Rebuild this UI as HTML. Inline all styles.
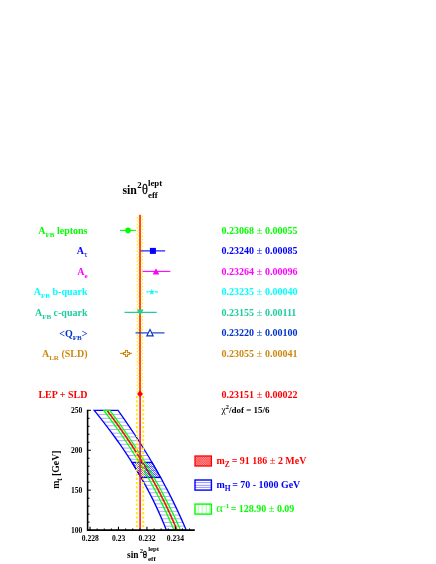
<!DOCTYPE html>
<html><head><meta charset="utf-8"><title>sin2theta</title>
<style>html,body{margin:0;padding:0;background:#fff;width:436px;height:564px;overflow:hidden;font-family:"Liberation Serif",serif;}</style>
</head><body>
<svg width="436" height="564" viewBox="0 0 436 564" style="position:absolute;left:0;top:0;will-change:transform">
<defs>
<clipPath id="pc"><rect x="87" y="409" width="110" height="121.1"/></clipPath>
</defs>
<text x="122.4" y="194" font-family="Liberation Serif" font-weight="bold" font-size="11.8" fill="#000">sin</text>
<text x="137.3" y="188" font-family="Liberation Serif" font-weight="bold" font-size="8.8" fill="#000">2</text>
<text transform="translate(142,194) scale(0.98,1.13)" font-family="Liberation Serif" font-size="12.5" fill="#000" stroke="#000" stroke-width="0.25">θ</text>
<text x="148" y="186.1" font-family="Liberation Serif" font-weight="bold" font-size="8.8" fill="#000">lept</text>
<text x="148" y="197.5" font-family="Liberation Serif" font-weight="bold" font-size="8.8" fill="#000">eff</text>
<path d="M137.3,217.05V394.6M140.7,217.05V394.6M139,215.45V394.6M142.4,215.45V394.6" stroke="#ffee22" stroke-width="1.4" stroke-dasharray="1.4,1.95" fill="none"/>
<rect x="139.2" y="214.8" width="1.65" height="181" fill="#ff2a10"/>
<text x="87.5" y="233.6" text-anchor="end" font-family="Liberation Serif" font-weight="bold" font-size="10" fill="#00ff00">A<tspan font-size="7" font-weight="bold" dy="3">FB</tspan><tspan dy="-3"> leptons</tspan></text>
<text x="221.5" y="233.6" font-family="Liberation Serif" font-weight="bold" font-size="10" fill="#00ff00">0.23068 <tspan font-weight="normal" font-size="10.8">±</tspan> 0.00055</text>
<line x1="120.0" y1="230.4" x2="135.9" y2="230.4" stroke="#00ff00" stroke-width="1.1"/>
<circle cx="128.0" cy="230.4" r="2.8" fill="#00ff00"/>
<text x="87.5" y="254.1" text-anchor="end" font-family="Liberation Serif" font-weight="bold" font-size="10" fill="#0000ff">A<tspan font-size="9" font-weight="normal" dy="3">τ</tspan></text>
<text x="221.5" y="254.1" font-family="Liberation Serif" font-weight="bold" font-size="10" fill="#0000ff">0.23240 <tspan font-weight="normal" font-size="10.8">±</tspan> 0.00085</text>
<line x1="140.6" y1="250.9" x2="165.2" y2="250.9" stroke="#0000ff" stroke-width="1.1"/>
<rect x="149.9" y="247.9" width="6" height="6" fill="#0000ff"/>
<text x="87.5" y="274.6" text-anchor="end" font-family="Liberation Serif" font-weight="bold" font-size="10" fill="#ff00ff">A<tspan font-size="7" font-weight="bold" dy="3">e</tspan></text>
<text x="221.5" y="274.6" font-family="Liberation Serif" font-weight="bold" font-size="10" fill="#ff00ff">0.23264 <tspan font-weight="normal" font-size="10.8">±</tspan> 0.00096</text>
<line x1="142.5" y1="271.4" x2="170.3" y2="271.4" stroke="#ff00ff" stroke-width="1.1"/>
<path d="M156.0,268.2L159.3,274.4H152.7Z" fill="#ff00ff"/>
<text x="87.5" y="295.1" text-anchor="end" font-family="Liberation Serif" font-weight="bold" font-size="10" fill="#00ffff">A<tspan font-size="7" font-weight="bold" dy="3">FB</tspan><tspan dy="-3"> b-quark</tspan></text>
<text x="221.5" y="295.1" font-family="Liberation Serif" font-weight="bold" font-size="10" fill="#00ffff">0.23235 <tspan font-weight="normal" font-size="10.8">±</tspan> 0.00040</text>
<path d="M146.4,291.9H148.8M154.8,291.9H158.0" stroke="#00ffff" stroke-width="1.1"/>
<polygon points="151.78,288.80 152.54,291.05 154.92,291.08 153.02,292.50 153.72,294.77 151.78,293.40 149.84,294.77 150.54,292.50 148.64,291.08 151.02,291.05" fill="#00ffff"/>
<text x="87.5" y="315.6" text-anchor="end" font-family="Liberation Serif" font-weight="bold" font-size="10" fill="#1fcc9f">A<tspan font-size="7" font-weight="bold" dy="3">FB</tspan><tspan dy="-3"> c-quark</tspan></text>
<text x="221.5" y="315.6" font-family="Liberation Serif" font-weight="bold" font-size="10" fill="#1fcc9f">0.23155 <tspan font-weight="normal" font-size="10.8">±</tspan> 0.00111</text>
<line x1="124.5" y1="312.4" x2="156.7" y2="312.4" stroke="#1fcc9f" stroke-width="1.1"/>
<path d="M140.2,315.4L143.5,309.6H136.9Z" fill="#1fcc9f"/>
<text x="87.5" y="336.8" text-anchor="end" font-family="Liberation Serif" font-weight="bold" font-size="10" fill="#0033cc">&lt;Q<tspan font-size="7" font-weight="bold" dy="3">FB</tspan><tspan dy="-3">&gt;</tspan></text>
<text x="221.5" y="336.1" font-family="Liberation Serif" font-weight="bold" font-size="10" fill="#0033cc">0.23220 <tspan font-weight="normal" font-size="10.8">±</tspan> 0.00100</text>
<line x1="135.5" y1="332.9" x2="164.5" y2="332.9" stroke="#0033cc" stroke-width="1.1"/>
<path d="M150.0,329.5L153.2,335.9H146.8Z" fill="#fff" stroke="#0033cc" stroke-width="1.1"/>
<text x="87.5" y="356.6" text-anchor="end" font-family="Liberation Serif" font-weight="bold" font-size="10" fill="#cc8811">A<tspan font-size="7" font-weight="bold" dy="3">LR</tspan><tspan dy="-3"> (SLD)</tspan></text>
<text x="221.5" y="356.6" font-family="Liberation Serif" font-weight="bold" font-size="10" fill="#cc8811">0.23055 <tspan font-weight="normal" font-size="10.8">±</tspan> 0.00041</text>
<line x1="120.1" y1="353.4" x2="132.0" y2="353.4" stroke="#cc8811" stroke-width="1.1"/>
<path d="M125.5,350.5H127.5V352.5H129.5V354.5H127.5V356.5H125.5V354.5H123.5V352.5H125.5Z" fill="#fff" stroke="#cc8811" stroke-width="1.1"/>
<text x="87.5" y="397.6" text-anchor="end" font-family="Liberation Serif" font-weight="bold" font-size="10" fill="#ff0000">LEP + SLD</text>
<text x="221.5" y="397.6" font-family="Liberation Serif" font-weight="bold" font-size="10" fill="#ff0000">0.23151 <tspan font-weight="normal" font-size="10.8">±</tspan> 0.00022</text>
<path d="M140.0,390.4L142.9,394.0L140.0,397.6L137.1,394.0Z" fill="#ff0000"/>
<text x="221.6" y="412.6" font-family="Liberation Serif" font-weight="bold" font-size="9" fill="#000"><tspan font-weight="normal" font-size="9.5">χ</tspan><tspan font-size="6.3" dy="-3.6">2</tspan><tspan dy="3.6">/dof = 15/6</tspan></text>
<clipPath id="cb"><polygon points="94.21,410.30 98.24,415.29 102.19,420.28 106.04,425.28 109.81,430.27 113.48,435.26 117.07,440.25 120.56,445.24 123.97,450.23 127.29,455.23 130.52,460.22 133.66,465.21 136.70,470.20 139.66,475.19 142.53,480.18 145.31,485.18 148.00,490.17 150.61,495.16 153.12,500.15 155.54,505.14 157.87,510.13 160.12,515.12 162.27,520.12 164.34,525.11 166.31,530.10 186.19,530.10 184.05,525.11 181.86,520.12 179.61,515.12 177.29,510.13 174.91,505.14 172.48,500.15 169.97,495.16 167.41,490.17 164.79,485.18 162.10,480.18 159.36,475.19 156.55,470.20 153.68,465.21 150.75,460.22 147.75,455.23 144.70,450.23 141.58,445.24 138.40,440.25 135.16,435.26 131.86,430.27 128.50,425.28 125.07,420.28 121.59,415.29 118.04,410.30"/></clipPath>
<clipPath id="cp"><polygon points="131.84,462.30 151.98,462.30 160.52,477.30 140.89,477.30"/></clipPath>
<clipPath id="cg"><polygon points="103.75,410.30 107.49,415.29 111.15,420.28 114.75,425.28 118.27,430.27 121.73,435.26 125.11,440.25 128.42,445.24 131.66,450.23 134.83,455.23 137.93,460.22 140.96,465.21 143.92,470.20 146.81,475.19 149.62,480.18 152.37,485.18 155.04,490.17 157.65,495.16 160.18,500.15 162.64,505.14 165.03,510.13 167.35,515.12 169.60,520.12 171.78,525.11 173.89,530.10 180.47,530.10 178.27,525.11 176.00,520.12 173.67,515.12 171.27,510.13 168.81,505.14 166.28,500.15 163.69,495.16 161.04,490.17 158.32,485.18 155.54,480.18 152.70,475.19 149.78,470.20 146.81,465.21 143.77,460.22 140.67,455.23 137.50,450.23 134.27,445.24 130.97,440.25 127.61,435.26 124.19,430.27 120.70,425.28 117.15,420.28 113.53,415.29 109.85,410.30"/></clipPath>
<g clip-path="url(#pc)">
<path d="M90,414.60H190M90,418.32H190M90,422.04H190M90,425.76H190M90,429.48H190M90,433.20H190M90,436.92H190M90,440.64H190M90,444.36H190M90,448.08H190M90,451.80H190M90,455.52H190M90,459.24H190M90,462.96H190M90,466.68H190M90,470.40H190M90,474.12H190M90,477.84H190M90,481.56H190M90,485.28H190M90,489.00H190M90,492.72H190M90,496.44H190M90,500.16H190M90,503.88H190M90,507.60H190M90,511.32H190M90,515.04H190M90,518.76H190M90,522.48H190M90,526.20H190" stroke="#0000ff" stroke-opacity="0.62" stroke-width="0.55" clip-path="url(#cb)" fill="none"/>
<polygon points="94.21,410.30 98.24,415.29 102.19,420.28 106.04,425.28 109.81,430.27 113.48,435.26 117.07,440.25 120.56,445.24 123.97,450.23 127.29,455.23 130.52,460.22 133.66,465.21 136.70,470.20 139.66,475.19 142.53,480.18 145.31,485.18 148.00,490.17 150.61,495.16 153.12,500.15 155.54,505.14 157.87,510.13 160.12,515.12 162.27,520.12 164.34,525.11 166.31,530.10 186.19,530.10 184.05,525.11 181.86,520.12 179.61,515.12 177.29,510.13 174.91,505.14 172.48,500.15 169.97,495.16 167.41,490.17 164.79,485.18 162.10,480.18 159.36,475.19 156.55,470.20 153.68,465.21 150.75,460.22 147.75,455.23 144.70,450.23 141.58,445.24 138.40,440.25 135.16,435.26 131.86,430.27 128.50,425.28 125.07,420.28 121.59,415.29 118.04,410.30" fill="none" stroke="#0000ff" stroke-width="1.3"/>
<polyline points="106.90,410.30 110.66,415.29 114.35,420.28 117.96,425.28 121.50,430.27 124.97,435.26 128.36,440.25 131.69,445.24 134.93,450.23 138.11,455.23 141.21,460.22 144.24,465.21 147.20,470.20 150.09,475.19 152.90,480.18 155.63,485.18 158.30,490.17 160.89,495.16 163.41,500.15 165.86,505.14 168.23,510.13 170.53,515.12 172.76,520.12 174.91,525.11 177.00,530.10" fill="none" stroke="#ff0000" stroke-width="1.55"/>
<path d="M90,460L110,480M91,480L111,460M92,460L112,480M93,480L113,460M94,460L114,480M95,480L115,460M96,460L116,480M97,480L117,460M98,460L118,480M99,480L119,460M100,460L120,480M101,480L121,460M102,460L122,480M103,480L123,460M104,460L124,480M105,480L125,460M106,460L126,480M107,480L127,460M108,460L128,480M109,480L129,460M110,460L130,480M111,480L131,460M112,460L132,480M113,480L133,460M114,460L134,480M115,480L135,460M116,460L136,480M117,480L137,460M118,460L138,480M119,480L139,460M120,460L140,480M121,480L141,460M122,460L142,480M123,480L143,460M124,460L144,480M125,480L145,460M126,460L146,480M127,480L147,460M128,460L148,480M129,480L149,460M130,460L150,480M131,480L151,460M132,460L152,480M133,480L153,460M134,460L154,480M135,480L155,460M136,460L156,480M137,480L157,460M138,460L158,480M139,480L159,460M140,460L160,480M141,480L161,460M142,460L162,480M143,480L163,460M144,460L164,480M145,480L165,460M146,460L166,480M147,480L167,460M148,460L168,480M149,480L169,460M150,460L170,480M151,480L171,460M152,460L172,480M153,480L173,460M154,460L174,480M155,480L175,460M156,460L176,480M157,480L177,460M158,460L178,480M159,480L179,460M160,460L180,480M161,480L181,460M162,460L182,480M163,480L183,460M164,460L184,480M165,480L185,460M166,460L186,480M167,480L187,460M168,460L188,480M169,480L189,460M170,460L190,480M171,480L191,460M172,460L192,480M173,480L193,460M174,460L194,480M175,480L195,460M176,460L196,480M177,480L197,460M178,460L198,480M179,480L199,460M180,460L200,480M181,480L201,460M182,460L202,480M183,480L203,460M184,460L204,480M185,480L205,460M186,460L206,480M187,480L207,460M188,460L208,480M189,480L209,460" stroke="#0000ff" stroke-opacity="0.72" stroke-width="0.5" clip-path="url(#cp)" fill="none"/>
<polyline points="106.90,410.30 110.66,415.29 114.35,420.28 117.96,425.28 121.50,430.27 124.97,435.26 128.36,440.25 131.69,445.24 134.93,450.23 138.11,455.23 141.21,460.22 144.24,465.21 147.20,470.20 150.09,475.19 152.90,480.18 155.63,485.18 158.30,490.17 160.89,495.16 163.41,500.15 165.86,505.14 168.23,510.13 170.53,515.12 172.76,520.12 174.91,525.11 177.00,530.10" fill="none" stroke="#7a0030" stroke-opacity="0.55" stroke-width="1.7" stroke-dasharray="1.1,1.1" clip-path="url(#cp)"/>
<polygon points="131.84,462.30 151.98,462.30 160.52,477.30 140.89,477.30" fill="none" stroke="#0000ff" stroke-width="1.15"/>
<path d="M100.00,405V535M102.40,405V535M104.80,405V535M107.20,405V535M109.60,405V535M112.00,405V535M114.40,405V535M116.80,405V535M119.20,405V535M121.60,405V535M124.00,405V535M126.40,405V535M128.80,405V535M131.20,405V535M133.60,405V535M136.00,405V535M138.40,405V535M140.80,405V535M143.20,405V535M145.60,405V535M148.00,405V535M150.40,405V535M152.80,405V535M155.20,405V535M157.60,405V535M160.00,405V535M162.40,405V535M164.80,405V535M167.20,405V535M169.60,405V535M172.00,405V535M174.40,405V535M176.80,405V535M179.20,405V535M181.60,405V535M184.00,405V535" stroke="#00ff00" stroke-opacity="0.45" stroke-width="0.5" clip-path="url(#cg)" fill="none"/>
<polygon points="103.75,410.30 107.49,415.29 111.15,420.28 114.75,425.28 118.27,430.27 121.73,435.26 125.11,440.25 128.42,445.24 131.66,450.23 134.83,455.23 137.93,460.22 140.96,465.21 143.92,470.20 146.81,475.19 149.62,480.18 152.37,485.18 155.04,490.17 157.65,495.16 160.18,500.15 162.64,505.14 165.03,510.13 167.35,515.12 169.60,520.12 171.78,525.11 173.89,530.10 180.47,530.10 178.27,525.11 176.00,520.12 173.67,515.12 171.27,510.13 168.81,505.14 166.28,500.15 163.69,495.16 161.04,490.17 158.32,485.18 155.54,480.18 152.70,475.19 149.78,470.20 146.81,465.21 143.77,460.22 140.67,455.23 137.50,450.23 134.27,445.24 130.97,440.25 127.61,435.26 124.19,430.27 120.70,425.28 117.15,420.28 113.53,415.29 109.85,410.30" fill="none" stroke="#00ff00" stroke-width="1.2"/>
</g>
<rect x="139.3" y="395" width="1.6" height="135" fill="#ff1a1a"/>
<line x1="136.8" y1="396" x2="136.8" y2="529.6" stroke="#ffec00" stroke-width="1.8" stroke-dasharray="2.3,2.0"/>
<line x1="143.3" y1="396" x2="143.3" y2="529.6" stroke="#ffec00" stroke-width="1.8" stroke-dasharray="2.3,2.0"/>
<path d="M87.6,409.7V530.1H194.8" fill="none" stroke="#000" stroke-width="1.55"/>
<line x1="87.6" y1="410.30" x2="91.0" y2="410.30" stroke="#000" stroke-width="1"/>
<line x1="87.6" y1="418.29" x2="89.6" y2="418.29" stroke="#000" stroke-width="1"/>
<line x1="87.6" y1="426.27" x2="89.6" y2="426.27" stroke="#000" stroke-width="1"/>
<line x1="87.6" y1="434.26" x2="89.6" y2="434.26" stroke="#000" stroke-width="1"/>
<line x1="87.6" y1="442.25" x2="89.6" y2="442.25" stroke="#000" stroke-width="1"/>
<line x1="87.6" y1="450.24" x2="91.0" y2="450.24" stroke="#000" stroke-width="1"/>
<line x1="87.6" y1="458.22" x2="89.6" y2="458.22" stroke="#000" stroke-width="1"/>
<line x1="87.6" y1="466.21" x2="89.6" y2="466.21" stroke="#000" stroke-width="1"/>
<line x1="87.6" y1="474.20" x2="89.6" y2="474.20" stroke="#000" stroke-width="1"/>
<line x1="87.6" y1="482.18" x2="89.6" y2="482.18" stroke="#000" stroke-width="1"/>
<line x1="87.6" y1="490.17" x2="91.0" y2="490.17" stroke="#000" stroke-width="1"/>
<line x1="87.6" y1="498.16" x2="89.6" y2="498.16" stroke="#000" stroke-width="1"/>
<line x1="87.6" y1="506.14" x2="89.6" y2="506.14" stroke="#000" stroke-width="1"/>
<line x1="87.6" y1="514.13" x2="89.6" y2="514.13" stroke="#000" stroke-width="1"/>
<line x1="87.6" y1="522.12" x2="89.6" y2="522.12" stroke="#000" stroke-width="1"/>
<line x1="87.6" y1="530.11" x2="91.0" y2="530.11" stroke="#000" stroke-width="1"/>
<text x="82.3" y="412.9" text-anchor="end" font-family="Liberation Serif" font-weight="bold" font-size="7.6" fill="#000">250</text>
<text x="82.3" y="452.8" text-anchor="end" font-family="Liberation Serif" font-weight="bold" font-size="7.6" fill="#000">200</text>
<text x="82.3" y="492.8" text-anchor="end" font-family="Liberation Serif" font-weight="bold" font-size="7.6" fill="#000">150</text>
<text x="82.3" y="532.7" text-anchor="end" font-family="Liberation Serif" font-weight="bold" font-size="7.6" fill="#000">100</text>
<line x1="90.04" y1="530.1" x2="90.04" y2="526.7" stroke="#000" stroke-width="1.1"/>
<line x1="97.15" y1="530.1" x2="97.15" y2="528.4" stroke="#000" stroke-width="1.1"/>
<line x1="104.26" y1="530.1" x2="104.26" y2="528.4" stroke="#000" stroke-width="1.1"/>
<line x1="111.37" y1="530.1" x2="111.37" y2="528.4" stroke="#000" stroke-width="1.1"/>
<line x1="118.48" y1="530.1" x2="118.48" y2="526.7" stroke="#000" stroke-width="1.1"/>
<line x1="125.59" y1="530.1" x2="125.59" y2="528.4" stroke="#000" stroke-width="1.1"/>
<line x1="132.70" y1="530.1" x2="132.70" y2="528.4" stroke="#000" stroke-width="1.1"/>
<line x1="139.81" y1="530.1" x2="139.81" y2="528.4" stroke="#000" stroke-width="1.1"/>
<line x1="146.92" y1="530.1" x2="146.92" y2="526.7" stroke="#000" stroke-width="1.1"/>
<line x1="154.03" y1="530.1" x2="154.03" y2="528.4" stroke="#000" stroke-width="1.1"/>
<line x1="161.14" y1="530.1" x2="161.14" y2="528.4" stroke="#000" stroke-width="1.1"/>
<line x1="168.25" y1="530.1" x2="168.25" y2="528.4" stroke="#000" stroke-width="1.1"/>
<line x1="175.36" y1="530.1" x2="175.36" y2="526.7" stroke="#000" stroke-width="1.1"/>
<line x1="182.47" y1="530.1" x2="182.47" y2="528.4" stroke="#000" stroke-width="1.1"/>
<line x1="189.58" y1="530.1" x2="189.58" y2="528.4" stroke="#000" stroke-width="1.1"/>
<text x="90.3" y="540.6" text-anchor="middle" font-family="Liberation Serif" font-weight="bold" font-size="7.6" fill="#000">0.228</text>
<text x="118.7" y="540.6" text-anchor="middle" font-family="Liberation Serif" font-weight="bold" font-size="7.6" fill="#000">0.23</text>
<text x="147.0" y="540.6" text-anchor="middle" font-family="Liberation Serif" font-weight="bold" font-size="7.6" fill="#000">0.232</text>
<text x="175.4" y="540.6" text-anchor="middle" font-family="Liberation Serif" font-weight="bold" font-size="7.6" fill="#000">0.234</text>
<text transform="translate(59,488.8) rotate(-90)" font-family="Liberation Serif" font-weight="bold" font-size="9.8" fill="#000">m<tspan font-size="7.5" dy="3">t</tspan><tspan dy="-3" dx="-0.4"> [GeV]</tspan></text>
<text x="127" y="557.9" font-family="Liberation Serif" font-weight="bold" font-size="9.4" fill="#000">sin</text>
<text x="139.8" y="552.7" font-family="Liberation Serif" font-weight="bold" font-size="6.6" fill="#000">2</text>
<text transform="translate(142.8,557.9) scale(0.98,1.13)" font-family="Liberation Serif" font-size="9.2" fill="#000" stroke="#000" stroke-width="0.3">θ</text>
<text x="148.2" y="551.1" font-family="Liberation Serif" font-weight="bold" font-size="6.8" fill="#000">lept</text>
<text x="148" y="561.3" font-family="Liberation Serif" font-weight="bold" font-size="7" fill="#000">eff</text>
<clipPath id="cl1"><rect x="195" y="456" width="16.4" height="10"/></clipPath>
<rect x="195" y="456" width="16.4" height="10" fill="#ffd0d0"/>
<path d="M175.00,455L187.00,467M175.00,467L187.00,455M176.80,455L188.80,467M176.80,467L188.80,455M178.60,455L190.60,467M178.60,467L190.60,455M180.40,455L192.40,467M180.40,467L192.40,455M182.20,455L194.20,467M182.20,467L194.20,455M184.00,455L196.00,467M184.00,467L196.00,455M185.80,455L197.80,467M185.80,467L197.80,455M187.60,455L199.60,467M187.60,467L199.60,455M189.40,455L201.40,467M189.40,467L201.40,455M191.20,455L203.20,467M191.20,467L203.20,455M193.00,455L205.00,467M193.00,467L205.00,455M194.80,455L206.80,467M194.80,467L206.80,455M196.60,455L208.60,467M196.60,467L208.60,455M198.40,455L210.40,467M198.40,467L210.40,455M200.20,455L212.20,467M200.20,467L212.20,455M202.00,455L214.00,467M202.00,467L214.00,455M203.80,455L215.80,467M203.80,467L215.80,455M205.60,455L217.60,467M205.60,467L217.60,455M207.40,455L219.40,467M207.40,467L219.40,455M209.20,455L221.20,467M209.20,467L221.20,455M211.00,455L223.00,467M211.00,467L223.00,455M212.80,455L224.80,467M212.80,467L224.80,455M214.60,455L226.60,467M214.60,467L226.60,455M216.40,455L228.40,467M216.40,467L228.40,455M218.20,455L230.20,467M218.20,467L230.20,455M220.00,455L232.00,467M220.00,467L232.00,455M221.80,455L233.80,467M221.80,467L233.80,455M223.60,455L235.60,467M223.60,467L235.60,455M225.40,455L237.40,467M225.40,467L237.40,455M227.20,455L239.20,467M227.20,467L239.20,455" stroke="#ff0000" stroke-opacity="0.9" stroke-width="0.55" clip-path="url(#cl1)" fill="none"/>
<rect x="195" y="456" width="16.4" height="10" fill="none" stroke="#ff0000" stroke-width="1.3"/>
<path d="M195,482.6H211.4M195,485.35H211.4M195,487.4H211.4" stroke="#0000ff" stroke-opacity="0.6" stroke-width="0.7" fill="none"/>
<rect x="195" y="480" width="16.4" height="10.1" fill="none" stroke="#0000ff" stroke-width="1.4"/>
<path d="M198.2,504V514M202.2,504V514M206.3,504V514M209.7,504V514" stroke="#00ff00" stroke-opacity="0.5" stroke-width="0.7" fill="none"/>
<rect x="195" y="504.1" width="16.4" height="10" fill="none" stroke="#00ff00" stroke-width="1.4"/>
<text x="216.4" y="464.2" font-family="Liberation Serif" font-weight="bold" font-size="9.95" fill="#ff0000">m<tspan font-size="7.5" dy="2.9">Z</tspan><tspan dy="-2.9" dx="-0.5"> = 91 186 </tspan><tspan font-weight="normal" font-size="10.5">±</tspan> 2 MeV</text>
<text x="216.4" y="488.3" font-family="Liberation Serif" font-weight="bold" font-size="9.95" fill="#0000ff">m<tspan font-size="7.5" dy="2.9">H</tspan><tspan dy="-2.9" dx="-0.8"> = 70 - 1000 GeV</tspan></text>
<text x="216.2" y="512.4" font-family="Liberation Serif" font-weight="bold" font-size="9.95" fill="#00ff00"><tspan font-weight="normal" font-size="12.5">α</tspan><tspan font-size="7" dy="-4.8" dx="0.6">-1</tspan><tspan dy="4.8" dx="-1"> = 128.90 </tspan><tspan font-weight="normal" font-size="10.5">±</tspan> 0.09</text>
</svg>
</body></html>
